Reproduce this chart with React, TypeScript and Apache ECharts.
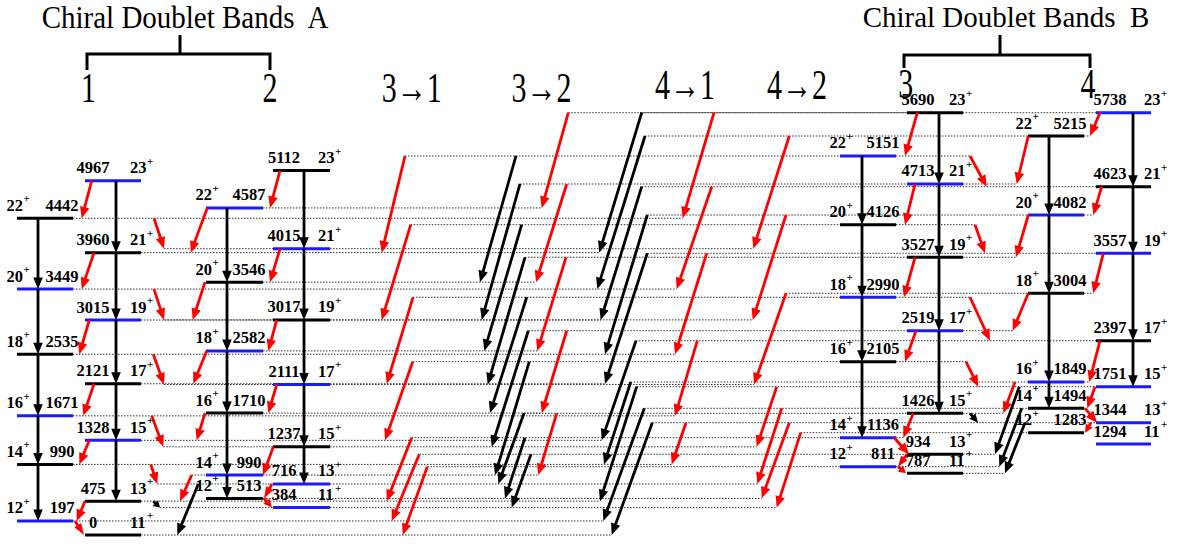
import React, { useEffect, useRef } from "react";
import * as echarts from "echarts";

// ---------------- DATA ----------------
// Level energies (keV), spins (all positive parity), drawn heights on the common energy scale,
// and whether the level line is highlighted (blue) in the scheme.
const band1EvenEnergy = [4442, 3449, 2535, 1671, 990, 197];
const band1EvenSpin = [22, 20, 18, 16, 14, 12];
const band1EvenDrawn = [4442, 3449, 2535, 1671, 990, 197];
const band1EvenMarked = [0, 1, 0, 1, 0, 1];
const band1OddEnergy = [4967, 3960, 3015, 2121, 1328, 475, 0];
const band1OddSpin = [23, 21, 19, 17, 15, 13, 11];
const band1OddDrawn = [4967, 3960, 3015, 2121, 1328, 475, 0];
const band1OddMarked = [1, 0, 1, 0, 1, 0, 0];

const band2EvenEnergy = [4587, 3546, 2582, 1710, 990, 513];
const band2EvenSpin = [22, 20, 18, 16, 14, 12];
const band2EvenDrawn = [4587, 3546, 2582, 1710, 841, 513];
const band2EvenMarked = [1, 0, 1, 0, 1, 0];
const band2OddEnergy = [5112, 4015, 3017, 2111, 1237, 716, 384];
const band2OddSpin = [23, 21, 19, 17, 15, 13, 11];
const band2OddDrawn = [5112, 4015, 3017, 2111, 1237, 716, 384];
const band2OddMarked = [0, 1, 0, 1, 0, 1, 1];

const band3EvenEnergy = [5151, 4126, 2990, 2105, 1136, 811];
const band3EvenSpin = [22, 20, 18, 16, 14, 12];
const band3EvenDrawn = [5316, 4352, 3334, 2431, 1365, 958];
const band3EvenMarked = [1, 0, 1, 0, 1, 1];
const band3OddEnergy = [5690, 4713, 3527, 2519, 1426, 934, 787];
const band3OddSpin = [23, 21, 19, 17, 15, 13, 11];
const band3OddDrawn = [5923, 4923, 3895, 2865, 1707, 1132, 865];
const band3OddMarked = [0, 1, 0, 1, 0, 0, 0];

const band4EvenEnergy = [5215, 4082, 3004, 1849, 1494, 1283];
const band4EvenSpin = [22, 20, 18, 16, 14, 12];
const band4EvenDrawn = [5596, 4488, 3390, 2146, 1777, 1435];
const band4EvenMarked = [0, 1, 0, 1, 0, 0];
const band4OddEnergy = [5738, 4623, 3557, 2397, 1751, 1344, 1294];
const band4OddSpin = [23, 21, 19, 17, 15, 13, 11];
const band4OddDrawn = [5923, 4885, 3951, 2725, 2080, 1575, 1276];
const band4OddMarked = [1, 0, 1, 0, 1, 1, 1];

// E2 cascades inside each signature partner
const band1EvenCascade = [4442, 3449, 2535, 1671, 990, 197];
const band1OddCascade = [4967, 3960, 3015, 2121, 1328, 475];
const band2EvenCascade = [4587, 3546, 2582, 1710, 990, 513];
const band2OddCascade = [5112, 4015, 3017, 2111, 1237, 716];
const band3EvenCascade = [5151, 4126, 2990, 2105, 1136];
const band3OddCascade = [5690, 4713, 3527, 2519, 1426];
const band4EvenCascade = [5215, 4082, 3004, 1849, 1494];
const band4OddCascade = [5738, 4623, 3557, 2397, 1751];

// Transitions "band:energy" -> "band:energy"
const bandAM1 = [
  ["1:4967", "1:4442"], ["1:3960", "1:3449"], ["1:3015", "1:2535"], ["1:2121", "1:1671"], ["1:1328", "1:990"], ["1:475", "1:197"], ["1:197", "1:0"],
  ["2:5112", "2:4587"], ["2:4015", "2:3546"], ["2:3017", "2:2582"], ["2:2111", "2:1710"], ["2:1237", "2:990"], ["2:716", "2:513"], ["2:513", "2:384"],
  ["1:4442", "2:4015"], ["1:3449", "2:3017"], ["1:2535", "2:2111"], ["1:1671", "2:1237"], ["1:990", "2:716"],
  ["2:4587", "1:3960"], ["2:3546", "1:3015"], ["2:2582", "1:2121"], ["2:1710", "1:1328"], ["2:990", "1:475"],
];
const bandAE2 = [["1:475", "2:384"], ["2:716", "1:0"]];
const bandBM1 = [
  ["3:5690", "3:5151"], ["3:4713", "3:4126"], ["3:3527", "3:2990"], ["3:2519", "3:2105"], ["3:1426", "3:1136"], ["3:1136", "3:934"], ["3:934", "3:811"], ["3:811", "3:787"],
  ["4:5738", "4:5215"], ["4:4623", "4:4082"], ["4:3557", "4:3004"], ["4:2397", "4:1849"], ["4:1751", "4:1494"], ["4:1494", "4:1344"], ["4:1344", "4:1283"],
  ["3:5151", "4:4623"], ["3:4126", "4:3557"], ["3:2990", "4:2397"], ["3:2105", "4:1751"],
  ["4:5215", "3:4713"], ["4:4082", "3:3527"], ["4:3004", "3:2519"], ["4:1849", "3:1426"],
];
const bandBE2 = [["3:1426", "4:1344"], ["4:1751", "3:934"], ["4:1494", "3:811"], ["4:1344", "3:787"]];
const trans31 = [["3:5151", "1:3960"], ["3:4126", "1:3015"], ["3:2990", "1:2121"], ["3:2105", "1:1328"], ["3:1136", "1:475"], ["3:934", "1:197"], ["3:811", "1:0"]];
const trans32E2 = [["3:5151", "2:3546"], ["3:4713", "2:3017"], ["3:4126", "2:2582"], ["3:3527", "2:2111"], ["3:2990", "2:1710"], ["3:2519", "2:1237"], ["3:2105", "2:990"], ["3:1426", "2:716"], ["3:1136", "2:513"], ["3:934", "2:384"]];
const trans32M1 = [["3:5690", "2:4587"], ["3:4713", "2:3546"], ["3:3527", "2:2582"], ["3:2519", "2:1710"], ["3:1426", "2:990"]];
const trans41E2 = [["4:5738", "1:3960"], ["4:5215", "1:3449"], ["4:4623", "1:3015"], ["4:4082", "1:2535"], ["4:3557", "1:2121"], ["4:2397", "1:1328"], ["4:1849", "1:990"], ["4:1751", "1:475"], ["4:1494", "1:197"], ["4:1344", "1:0"]];
const trans41M1 = [["4:5738", "1:4442"], ["4:4623", "1:3449"], ["4:3557", "1:2535"], ["4:2397", "1:1671"], ["4:1344", "1:990"]];
const trans42M1 = [["4:5215", "2:4015"], ["4:4082", "2:3017"], ["4:3004", "2:2111"], ["4:1751", "2:1237"], ["4:1494", "2:716"], ["4:1344", "2:513"], ["4:1283", "2:384"]];

const headerTitles = ["Chiral Doublet Bands  A", "Chiral Doublet Bands  B"];
const headerColumns = ["1", "2", "3\u21921", "3\u21922", "4\u21921", "4\u21922", "3", "4"];

// ---------------- LAYOUT (horizontal schematic positions, px) ----------------
// eOdd: centre of energy label from left end of odd level; sOdd: left of spin label from right end
// sEven: right edge of spin label from left end of even level; eEven: centre of energy label from right end
const COLS: any = {
  1: { even: [17, 73], odd: [85, 141], evenX: 38, oddX: 116, eOdd: 8, sOdd: -11, sEven: 6, eEven: -11 },
  2: { even: [206, 263], odd: [273, 330], evenX: 227, oddX: 304, eOdd: 11, sOdd: -12, sEven: 6, eEven: -14 },
  3: { even: [840, 896], odd: [907, 963], evenX: 862, oddX: 939, eOdd: 11, sOdd: -14, sEven: 6, eEven: -13 },
  4: { even: [1028, 1084], odd: [1096, 1151], evenX: 1049, oddX: 1133, eOdd: 14, sOdd: -7, sEven: 4, eEven: -14 },
};
const bandAM1X = [
  [91.7, 81.7], [94, 81.7], [89.3, 79.3], [94, 83.3], [89.3, 79.3], [85, 76.7], [75, 84],
  [280, 270], [280, 270], [276.7, 268.3], [276.7, 268.3], [273.3, 263], [272, 264], [264, 272],
  [154, 164], [154, 164], [153.3, 164], [151.7, 163.3], [150.7, 157.3],
  [207.3, 190.7], [205, 192.7], [206.7, 193.3], [205, 196.7], [191.7, 180],
];
const bandAE2X = [[153.3, 160], [198.3, 177.3]];
const bandBM1X = [
  [917.3, 905], [915, 905], [915, 904], [916, 905], [913.3, 903.3], [894, 909], [907, 898], [898, 906],
  [1100, 1090], [1101.7, 1093.3], [1103.3, 1093.3], [1100, 1089.3], [1095, 1087.3], [1085, 1097], [1091, 1085],
  [970, 986.7], [975, 985], [970, 990], [966, 978.3],
  [1028.3, 1016.7], [1028.3, 1016], [1028.3, 1012.7], [1015, 1003.3],
];
const bandBE2X = [[970, 978], [1019.3, 995], [1021.7, 999.3], [1025, 1005]];
const trans31X = [[405, 381.7], [410.7, 381.7], [413, 386.7], [412.7, 385], [411.7, 386.7], [419.3, 391.7], [427.3, 402.7]];
const trans32E2X = [[516, 480], [520, 481.7], [521.7, 484.3], [525, 487.7], [526.7, 490], [528.3, 491.7], [529.3, 495], [524, 498.3], [525, 505], [531, 511.7]];
const trans32M1X = [[568.3, 541.7], [566.7, 536], [566, 537.3], [566.7, 541.7], [556.7, 538.3]];
const trans41E2X = [[641.7, 599.3], [645, 597.3], [641.7, 600.7], [647.3, 605], [647.3, 605], [636, 601.7], [630.7, 604], [636.7, 600], [644.3, 603.3], [652.3, 611.7]];
const trans41M1X = [[714, 682.7], [711.7, 676.7], [706.7, 675], [697.3, 675], [686, 671.7]];
const trans42M1X = [[789.3, 753.3], [786, 752.7], [786, 754], [776.7, 756.7], [781.7, 757.3], [789.3, 761.7], [800.7, 776.7]];

const RED = "#ff0000";
const BLACK = "#000000";
const BLUE = "#1a1aff";
const DOT = "#333333";
const COLORS = [BLACK, RED];
const FONT = '"Liberation Serif", "Times New Roman", serif';
const LABEL_SIZE = 16.5;

type Lv = { key: string; band: number; odd: boolean; energy: number; spin: number; drawn: number; marked: number };

function buildLevels(): Record<string, Lv> {
  const out: Record<string, Lv> = {};
  const add = (band: number, odd: boolean, e: number[], s: number[], d: number[], m: number[]) =>
    e.forEach((en, i) => {
      out[`${band}:${en}`] = { key: `${band}:${en}`, band, odd, energy: en, spin: s[i], drawn: d[i], marked: m[i] };
    });
  add(1, false, band1EvenEnergy, band1EvenSpin, band1EvenDrawn, band1EvenMarked);
  add(1, true, band1OddEnergy, band1OddSpin, band1OddDrawn, band1OddMarked);
  add(2, false, band2EvenEnergy, band2EvenSpin, band2EvenDrawn, band2EvenMarked);
  add(2, true, band2OddEnergy, band2OddSpin, band2OddDrawn, band2OddMarked);
  add(3, false, band3EvenEnergy, band3EvenSpin, band3EvenDrawn, band3EvenMarked);
  add(3, true, band3OddEnergy, band3OddSpin, band3OddDrawn, band3OddMarked);
  add(4, false, band4EvenEnergy, band4EvenSpin, band4EvenDrawn, band4EvenMarked);
  add(4, true, band4OddEnergy, band4OddSpin, band4OddDrawn, band4OddMarked);
  return out;
}

function arrowEls(p1: number[], p2: number[], color: string, lw: number) {
  const dx = p2[0] - p1[0];
  const dy = p2[1] - p1[1];
  const len = Math.hypot(dx, dy) || 1;
  const ux = dx / len;
  const uy = dy / len;
  const hl = len < 18 ? len * 0.7 : 11.5;
  const hw = len < 18 ? 4 : 4.8;
  const bx = p2[0] - ux * hl;
  const by = p2[1] - uy * hl;
  return [
    { type: "line", shape: { x1: p1[0], y1: p1[1], x2: bx + ux * 1, y2: by + uy * 1 }, style: { stroke: color, lineWidth: lw } },
    {
      type: "polygon",
      shape: { points: [[p2[0], p2[1]], [bx - uy * hw, by + ux * hw], [bx + uy * hw, by - ux * hw]] },
      style: { fill: color },
    },
  ];
}

export default function App() {
  const ref = useRef<HTMLDivElement>(null);
  useEffect(() => {
    if (!ref.current) return;
    const chart = echarts.init(ref.current, undefined, { renderer: "svg" });
    const lv = buildLevels();
    const levelList = Object.values(lv);

    // arrows: [x1, y1, x2, y2, colorIdx]
    const arrows: number[][] = [];
    const touch: Record<string, number[]> = {};
    const addGroup = (pairs: string[][], xs: number[][], colorIdx: number) => {
      pairs.forEach((p, i) => {
        const a = lv[p[0]];
        const b = lv[p[1]];
        arrows.push([xs[i][0], a.drawn, xs[i][1], b.drawn, colorIdx]);
        (touch[a.key] = touch[a.key] || []).push(xs[i][0]);
        (touch[b.key] = touch[b.key] || []).push(xs[i][1]);
      });
    };
    const addCascade = (band: number, odd: boolean, seq: number[]) => {
      const x = odd ? COLS[band].oddX : COLS[band].evenX;
      for (let i = 0; i < seq.length - 1; i++) {
        arrows.push([x, lv[`${band}:${seq[i]}`].drawn, x, lv[`${band}:${seq[i + 1]}`].drawn, 0]);
      }
    };
    addCascade(1, false, band1EvenCascade);
    addCascade(1, true, band1OddCascade);
    addCascade(2, false, band2EvenCascade);
    addCascade(2, true, band2OddCascade);
    addCascade(3, false, band3EvenCascade);
    addCascade(3, true, band3OddCascade);
    addCascade(4, false, band4EvenCascade);
    addCascade(4, true, band4OddCascade);
    addGroup(bandAM1, bandAM1X, 1);
    addGroup(bandAE2, bandAE2X, 0);
    addGroup(bandBM1, bandBM1X, 1);
    addGroup(bandBE2, bandBE2X, 0);
    addGroup(trans31, trans31X, 1);
    addGroup(trans32E2, trans32E2X, 0);
    addGroup(trans32M1, trans32M1X, 1);
    addGroup(trans41E2, trans41E2X, 0);
    addGroup(trans41M1, trans41M1X, 1);
    addGroup(trans42M1, trans42M1X, 1);

    // level lines: [L, R, y, marked]
    const levelData = levelList.map((l) => {
      const span = l.odd ? COLS[l.band].odd : COLS[l.band].even;
      return [span[0], span[1], l.drawn, l.marked];
    });

    // dotted guide lines: [x1, x2, y]
    const dotted: number[][] = [];
    levelList.forEach((l) => {
      const xs = touch[l.key];
      if (!xs) return;
      const span = l.odd ? COLS[l.band].odd : COLS[l.band].even;
      const lo = Math.min(...xs);
      const hi = Math.max(...xs);
      if (lo < span[0] - 1) dotted.push([lo, span[0], l.drawn]);
      if (hi > span[1] + 1) dotted.push([span[1], hi, l.drawn]);
    });

    // labels
    type Lab = { x: number; y: number; text: string; align: string; small: boolean };
    const labels: Lab[] = [];
    levelList.forEach((l) => {
      const c = COLS[l.band];
      if (l.odd) {
        const [L, R] = c.odd;
        labels.push({ x: L + c.eOdd, y: l.drawn, text: String(l.energy), align: "center", small: false });
        labels.push({ x: R + c.sOdd, y: l.drawn, text: String(l.spin), align: "left", small: false });
        labels.push({ x: R + c.sOdd + LABEL_SIZE + 0.5, y: l.drawn, text: "+", align: "left", small: true });
      } else {
        const [L, R] = c.even;
        labels.push({ x: L + c.sEven, y: l.drawn, text: String(l.spin), align: "right", small: false });
        labels.push({ x: L + c.sEven + 0.5, y: l.drawn, text: "+", align: "left", small: true });
        labels.push({ x: R + c.eEven, y: l.drawn, text: String(l.energy), align: "center", small: false });
      }
    });

    const headerPos = [
      [88.6, 88.6], [270, 88.6], [411.8, 88.6], [541.5, 88.6],
      [685, 85], [797, 85], [905.8, 84.5], [1088, 84.5],
    ];
    const graphics: any[] = [];
    graphics.push({
      type: "text", x: 185, y: 17.3, scaleY: 1.08,
      style: { text: headerTitles[0], font: `29px ${FONT}`, fill: "#000", align: "center", verticalAlign: "middle", textAlign: "center", textVerticalAlign: "middle" },
    });
    graphics.push({
      type: "text", x: 1006, y: 16.5, scaleY: 1.0,
      style: { text: headerTitles[1], font: `29px ${FONT}`, fill: "#000", align: "center", verticalAlign: "middle", textAlign: "center", textVerticalAlign: "middle" },
    });
    headerColumns.forEach((t, i) => {
      graphics.push({
        type: "text", x: headerPos[i][0], y: headerPos[i][1], scaleY: 1.38,
        style: { text: t, font: `30px ${FONT}`, fill: "#000", align: "center", verticalAlign: "middle", textAlign: "center", textVerticalAlign: "middle" },
      });
    });
    const bracket = (xl: number, xr: number, xm: number, yTop: number, yBar: number, yEnd: number) => [
      { type: "polyline", shape: { points: [[xl, yEnd], [xl, yBar], [xr, yBar], [xr, yEnd]] }, style: { stroke: "#000", lineWidth: 3, fill: "none" } },
      { type: "line", shape: { x1: xm, y1: yTop, x2: xm, y2: yBar }, style: { stroke: "#000", lineWidth: 3 } },
    ];
    graphics.push(...bracket(87, 270, 180, 35, 54, 70));
    graphics.push(...bracket(904, 1090, 1000, 35, 55, 68));

    const option: any = {
      animation: false,
      grid: { left: 0, right: 0, top: 0, bottom: 0 },
      xAxis: { type: "value", min: 0, max: 1183, show: false },
      yAxis: { type: "value", min: -126.2, max: 7503.5, show: false },
      graphic: graphics,
      series: [
        {
          type: "custom", coordinateSystem: "cartesian2d", silent: true, z: 1,
          data: dotted,
          renderItem: (_p: any, api: any) => {
            const a = api.coord([api.value(0), api.value(2)]);
            const b = api.coord([api.value(1), api.value(2)]);
            return { type: "line", shape: { x1: a[0], y1: a[1], x2: b[0], y2: b[1] }, style: { stroke: DOT, lineWidth: 1, lineDash: [1.5, 1.5] } };
          },
        },
        {
          type: "custom", coordinateSystem: "cartesian2d", silent: true, z: 2,
          data: levelData,
          renderItem: (_p: any, api: any) => {
            const a = api.coord([api.value(0), api.value(2)]);
            const b = api.coord([api.value(1), api.value(2)]);
            return { type: "line", shape: { x1: a[0], y1: a[1], x2: b[0], y2: b[1] }, style: { stroke: api.value(3) ? BLUE : BLACK, lineWidth: 3 } };
          },
        },
        {
          type: "custom", coordinateSystem: "cartesian2d", silent: true, z: 3,
          data: arrows,
          renderItem: (_p: any, api: any) => {
            const a = api.coord([api.value(0), api.value(1)]);
            const b = api.coord([api.value(2), api.value(3)]);
            return { type: "group", children: arrowEls(a, b, COLORS[api.value(4)], 2.8) };
          },
        },
        {
          type: "custom", coordinateSystem: "cartesian2d", silent: true, z: 4,
          data: labels.map((l) => [l.x, l.y]),
          renderItem: (p: any, api: any) => {
            const l = labels[p.dataIndex];
            const pt = api.coord([api.value(0), api.value(1)]);
            const dy = l.small ? -20 : -13;
            const font = l.small ? `bold 11px ${FONT}` : `bold ${LABEL_SIZE}px ${FONT}`;
            return {
              type: "text", x: pt[0], y: pt[1] + dy,
              style: { text: l.text, font, fill: "#000", align: l.align, verticalAlign: "middle", textAlign: l.align, textVerticalAlign: "middle" },
            };
          },
        },
      ],
    };
    chart.setOption(option);
    return () => chart.dispose();
  }, []);
  return <div ref={ref} style={{ position: "absolute", left: 0, top: 0, width: 1183, height: 544, background: "#fff" }} />;
}
